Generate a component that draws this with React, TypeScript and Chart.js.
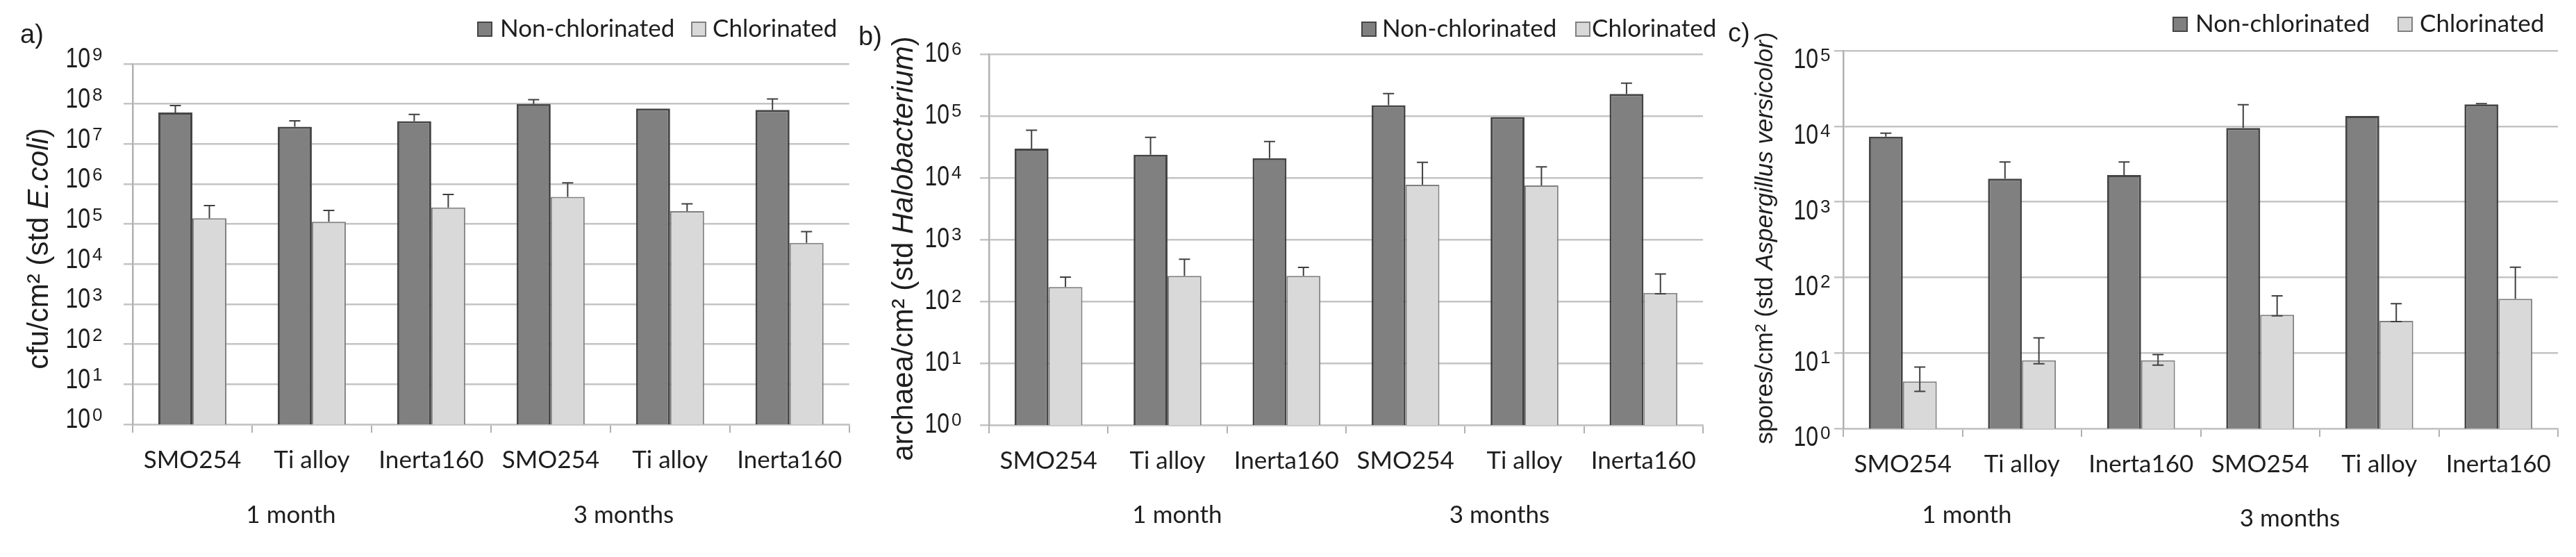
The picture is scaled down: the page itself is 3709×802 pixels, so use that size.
import React, { useEffect, useRef } from 'react';
import { Chart, registerables } from 'chart.js';

Chart.register(...registerables);

// ---------------- data ----------------
const CATEGORIES = ['SMO254', 'Ti alloy', 'Inerta160', 'SMO254', 'Ti alloy', 'Inerta160'];
const PERIODS = ['1 month', '3 months'];
const SERIES_NAMES = ['Non-chlorinated', 'Chlorinated'];

// a) E. coli (cfu/cm2)
const ECOLI_NON = [6.1e7, 2.7e7, 3.7e7, 1.0e8, 7.7e7, 7.1e7];
const ECOLI_NON_HI = [9.1e7, 3.8e7, 5.5e7, 1.28e8, null, 1.33e8];
const ECOLI_CHL = [1.4e5, 1.15e5, 2.6e5, 4.8e5, 2.1e5, 3.4e4];
const ECOLI_CHL_HI = [2.9e5, 2.2e5, 5.5e5, 1.07e6, 3.2e5, 6.5e4];

// b) Halobacterium (archaea/cm2)
const HALO_NON = [2.97e4, 2.37e4, 2.08e4, 1.49e5, 9.6e4, 2.27e5];
const HALO_NON_HI = [5.9e4, 4.5e4, 3.87e4, 2.3e5, null, 3.4e5];
const HALO_CHL = [171, 258, 258, 7.7e3, 7.5e3, 137];
const HALO_CHL_HI = [248, 481, 355, 1.78e4, 1.5e4, 277];
const HALO_CHL_LO = [null, null, null, null, null, 133];

// c) Aspergillus versicolor (spores/cm2)
const ASP_NON = [7.3e3, 2.03e3, 2.26e3, 9.5e3, 1.37e4, 1.95e4];
const ASP_NON_HI = [8.1e3, 3.37e3, 3.37e3, 1.93e4, null, 1.99e4];
const ASP_CHL = [4.2, 8.0, 8.0, 32, 26.6, 52];
const ASP_CHL_HI = [6.5, 15.8, 9.5, 57, 44.8, 136];
const ASP_CHL_LO = [3.1, 7.2, 6.9, 31, 26, null];

const NONE = [null, null, null, null, null, null];

// tick values (powers of ten)
const TICKS_ECOLI = [1, 1e1, 1e2, 1e3, 1e4, 1e5, 1e6, 1e7, 1e8, 1e9];
const TICKS_HALO = [1, 1e1, 1e2, 1e3, 1e4, 1e5, 1e6];
const TICKS_ASP = [1, 1e1, 1e2, 1e3, 1e4, 1e5];

// ---------------- styles ----------------
const DARK = '#808080';
const DARK_EDGE = '#454545';
const LIGHT = '#d9d9d9';
const LIGHT_EDGE = '#808080';
const GRID = '#c4c4c4';
const AXIS = '#b0b0b0';
const ERR = '#404040';
const TEXT = '#1e1e1e';
const ARIAL = "'Liberation Sans', Arial, sans-serif";
const CALIBRI = "Lato, 'Open Sans', sans-serif";

type Seg = { t: string; i?: boolean };

interface PanelCfg {
  canvasLeft: number;
  width: number;
  padTop: number;
  padRight: number;
  xh: number;
  yw: number;
  max: number;
  ticks: number[];
  non: number[];
  chl: number[];
  hi: (number | null)[][];
  lo: (number | null)[][];
  tenGap: number;
  tickDy: number;
  letter: string;
  letterPos: [number, number];
  title: Seg[];
  titlePos: [number, number];
  titleSize: number;
  legendBoxes: [number, number];
  legendTexts: [number, number];
  legendY: number;
  months: [number, number][];
}

const PANELS: PanelCfg[] = [
  {
    canvasLeft: 0, width: 1232, padTop: 92, padRight: 8, xh: 191, yw: 191,
    max: 1e9, ticks: TICKS_ECOLI, non: ECOLI_NON, chl: ECOLI_CHL,
    hi: [ECOLI_NON_HI, ECOLI_CHL_HI], lo: [NONE, NONE],
    tenGap: 61, tickDy: -6,
    letter: 'a)', letterPos: [29, 52],
    title: [{ t: 'cfu/cm\u00b2 (std ' }, { t: 'E.coli', i: true }, { t: ')' }],
    titlePos: [57, 358], titleSize: 42,
    legendBoxes: [687, 995], legendTexts: [720, 1026], legendY: 42,
    months: [[419, 742], [898, 742]],
  },
  {
    canvasLeft: 1232, width: 1238, padTop: 78, padRight: 18, xh: 190, yw: 192,
    max: 1e6, ticks: TICKS_HALO, non: HALO_NON, chl: HALO_CHL,
    hi: [HALO_NON_HI, HALO_CHL_HI], lo: [NONE, HALO_CHL_LO],
    tenGap: 57, tickDy: 0,
    letter: 'b)', letterPos: [1236, 55],
    title: [{ t: 'archaea/cm\u00b2 (std ' }, { t: 'Halobacterium', i: true }, { t: ')' }],
    titlePos: [1302, 358], titleSize: 42,
    legendBoxes: [1960, 2268], legendTexts: [1990, 2292], legendY: 42,
    months: [[1695, 742], [2159, 742]],
  },
  {
    canvasLeft: 2470, width: 1239, padTop: 73, padRight: 26, xh: 185, yw: 184,
    max: 1e5, ticks: TICKS_ASP, non: ASP_NON, chl: ASP_CHL,
    hi: [ASP_NON_HI, ASP_CHL_HI], lo: [NONE, ASP_CHL_LO],
    tenGap: 36, tickDy: 14,
    letter: 'c)', letterPos: [2488, 50],
    title: [{ t: 'spores/cm\u00b2 (std ' }, { t: 'Aspergillus versicolor', i: true }, { t: ')' }],
    titlePos: [2542, 343], titleSize: 35,
    legendBoxes: [3128, 3452], legendTexts: [3161, 3484], legendY: 35,
    months: [[2832, 742], [3297, 747]],
  },
];

const HEIGHT = 802;

function errorBarPlugin(cfg: PanelCfg) {
  return {
    id: 'errbars',
    afterDatasetsDraw(chart: any) {
      const ctx = chart.ctx as CanvasRenderingContext2D;
      const ys = chart.scales.y;
      ctx.save();
      ctx.strokeStyle = ERR;
      ctx.lineWidth = 2;
      chart.data.datasets.forEach((_ds: any, i: number) => {
        const meta = chart.getDatasetMeta(i);
        meta.data.forEach((el: any, j: number) => {
          const x = el.x;
          const y0 = el.y;
          [cfg.hi[i][j], cfg.lo[i][j]].forEach((v) => {
            if (v == null) return;
            const y1 = ys.getPixelForValue(v);
            ctx.beginPath();
            ctx.moveTo(x, y0);
            ctx.lineTo(x, y1);
            ctx.moveTo(x - 8, y1);
            ctx.lineTo(x + 8, y1);
            ctx.stroke();
          });
        });
      });
      ctx.restore();
    },
  };
}

function decorPlugin(cfg: PanelCfg) {
  const L = cfg.canvasLeft;
  return {
    id: 'decor',
    afterDraw(chart: any) {
      const ctx = chart.ctx as CanvasRenderingContext2D;
      const ys = chart.scales.y;
      const area = chart.chartArea;
      ctx.save();
      ctx.fillStyle = TEXT;

      // y tick labels 10^n
      ys.ticks.forEach((tk: any) => {
        const v = tk.value;
        const e = Math.round(Math.log10(v));
        const y = ys.getPixelForValue(v) + cfg.tickDy;
        const xr = area.left - cfg.tenGap;
        ctx.save();
        ctx.translate(xr, y);
        ctx.scale(1, 1.28);
        ctx.font = `32px ${ARIAL}`;
        ctx.textAlign = 'right';
        ctx.textBaseline = 'middle';
        ctx.fillText('10', 0, 0);
        ctx.restore();
        ctx.font = `26px ${ARIAL}`;
        ctx.textAlign = 'left';
        ctx.textBaseline = 'alphabetic';
        ctx.fillText(String(e), xr + 3, y + 1);
      });

      // panel letter
      ctx.font = `38px ${ARIAL}`;
      ctx.textAlign = 'left';
      ctx.textBaseline = 'middle';
      ctx.fillText(cfg.letter, cfg.letterPos[0] - L, cfg.letterPos[1]);

      // y-axis title (rotated, mixed italic)
      ctx.save();
      ctx.translate(cfg.titlePos[0] - L, cfg.titlePos[1]);
      ctx.rotate(-Math.PI / 2);
      const fontOf = (s: Seg) => `${s.i ? 'italic ' : ''}${cfg.titleSize}px ${ARIAL}`;
      let total = 0;
      cfg.title.forEach((s) => {
        ctx.font = fontOf(s);
        total += ctx.measureText(s.t).width;
      });
      let cx = -total / 2;
      ctx.textBaseline = 'middle';
      ctx.textAlign = 'left';
      cfg.title.forEach((s) => {
        ctx.font = fontOf(s);
        ctx.fillText(s.t, cx, 0);
        cx += ctx.measureText(s.t).width;
      });
      ctx.restore();

      // legend
      const fills = [DARK, LIGHT];
      const edges = [DARK_EDGE, LIGHT_EDGE];
      chart.data.datasets.forEach((ds: any, i: number) => {
        const bx = cfg.legendBoxes[i] - L;
        const by = cfg.legendY - 11;
        ctx.fillStyle = fills[i];
        ctx.fillRect(bx, by, 22, 22);
        ctx.strokeStyle = edges[i];
        ctx.lineWidth = 2;
        ctx.strokeRect(bx + 1, by + 1, 20, 20);
        ctx.fillStyle = TEXT;
        ctx.font = `35px ${CALIBRI}`;
        ctx.textAlign = 'left';
        ctx.textBaseline = 'middle';
        ctx.fillText(ds.label, cfg.legendTexts[i] - L, cfg.legendY);
      });

      // period labels
      ctx.font = `35px ${CALIBRI}`;
      ctx.textAlign = 'center';
      ctx.textBaseline = 'middle';
      cfg.months.forEach((p, k) => {
        ctx.fillText(PERIODS[k], p[0] - L, p[1]);
      });

      ctx.restore();
    },
  };
}

function Panel({ cfg }: { cfg: PanelCfg }) {
  const ref = useRef<HTMLCanvasElement | null>(null);
  useEffect(() => {
    if (!ref.current) return;
    const chart = new Chart(ref.current, {
      type: 'bar',
      data: {
        labels: CATEGORIES,
        datasets: [
          {
            label: SERIES_NAMES[0], data: cfg.non,
            backgroundColor: DARK, borderColor: DARK_EDGE, borderWidth: 3,
            barPercentage: 1, categoryPercentage: 0.57,
          },
          {
            label: SERIES_NAMES[1], data: cfg.chl,
            backgroundColor: LIGHT, borderColor: LIGHT_EDGE, borderWidth: 2,
            barPercentage: 1, categoryPercentage: 0.57,
          },
        ],
      },
      options: {
        animation: false,
        responsive: false,
        devicePixelRatio: 1,
        layout: { padding: { top: cfg.padTop, right: cfg.padRight, bottom: 0, left: 0 } },
        plugins: { legend: { display: false }, tooltip: { enabled: false } },
        scales: {
          x: {
            grid: { display: true, drawOnChartArea: false, drawTicks: true, tickLength: 12, color: AXIS, lineWidth: 2, offset: true },
            border: { display: true, color: GRID, width: 2.5 },
            ticks: { font: { family: CALIBRI, size: 35 }, color: TEXT, padding: 19, maxRotation: 0, autoSkip: false },
            afterFit: (s: any) => { s.height = cfg.xh; },
          },
          y: {
            type: 'logarithmic', min: 1, max: cfg.max,
            grid: { color: GRID, lineWidth: 2.5, tickLength: 13, drawTicks: true },
            border: { display: true, color: AXIS, width: 2.5 },
            ticks: { display: false },
            afterBuildTicks: (s: any) => { s.ticks = cfg.ticks.map((v) => ({ value: v })); },
            afterFit: (s: any) => { s.width = cfg.yw; },
          },
        },
      } as any,
      plugins: [errorBarPlugin(cfg), decorPlugin(cfg)],
    });
    return () => chart.destroy();
  }, [cfg]);
  return (
    <canvas
      ref={ref}
      width={cfg.width}
      height={HEIGHT}
      style={{ position: 'absolute', left: cfg.canvasLeft, top: 0, width: cfg.width, height: HEIGHT }}
    />
  );
}

export default function App() {
  return (
    <div style={{ position: 'absolute', left: 0, top: 0, width: 3709, height: HEIGHT, background: '#ffffff', overflow: 'hidden' }}>
      {PANELS.map((p, i) => (
        <Panel key={i} cfg={p} />
      ))}
    </div>
  );
}
